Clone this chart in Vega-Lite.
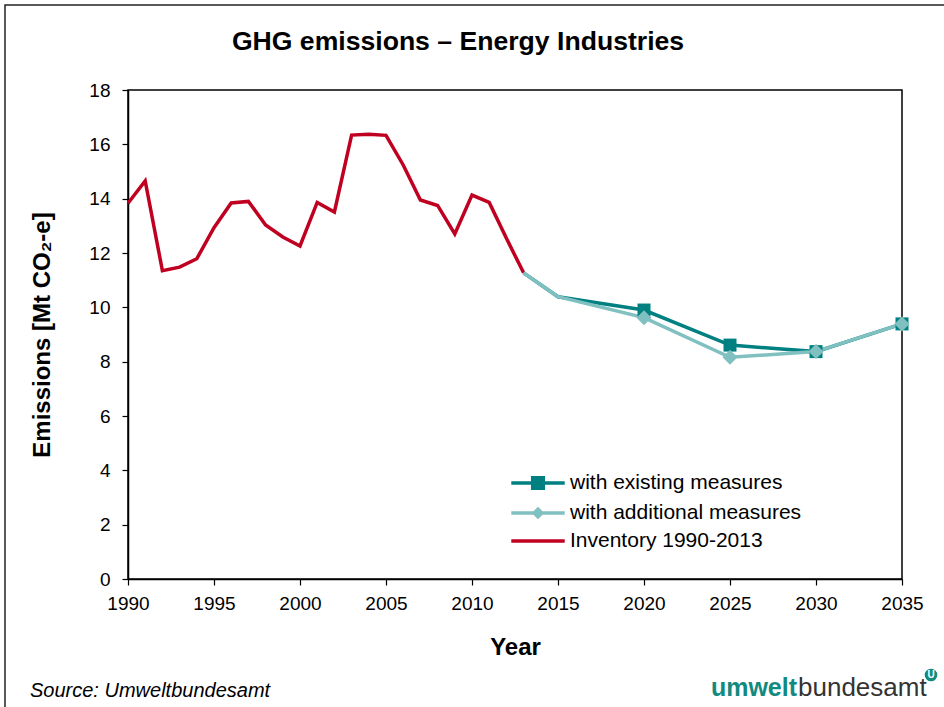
{
  "$schema": "https://vega.github.io/schema/vega-lite/v6.json",
  "width": 774,
  "height": 489,
  "autosize": {"type": "none"},
  "padding": {"left": 128, "top": 90, "right": 42, "bottom": 128},
  "background": "white",
  "title": {
    "text": "GHG emissions – Energy Industries",
    "font": "Liberation Sans",
    "fontSize": 26.6,
    "fontWeight": "bold",
    "color": "black",
    "anchor": "middle",
    "frame": "group",
    "dx": -57,
    "offset": -72,
    "baseline": "alphabetic"
  },
  "config": {
    "view": {"stroke": "black", "strokeWidth": 1.5},
    "axis": {
      "grid": false,
      "domainColor": "black",
      "domainWidth": 1.5,
      "tickColor": "black",
      "tickWidth": 1.2,
      "tickSize": 6,
      "labelFont": "Liberation Sans",
      "labelFontSize": 19,
      "labelColor": "black",
      "labelFlush": false,
      "titleFont": "Liberation Sans",
      "titleFontSize": 24,
      "titleFontWeight": "bold",
      "titleColor": "black"
    }
  },
  "data": {
    "values": [
      {"year": 1990, "value": 13.83, "series": "Inventory 1990-2013"},
      {"year": 1991, "value": 14.65, "series": "Inventory 1990-2013"},
      {"year": 1992, "value": 11.35, "series": "Inventory 1990-2013"},
      {"year": 1993, "value": 11.48, "series": "Inventory 1990-2013"},
      {"year": 1994, "value": 11.79, "series": "Inventory 1990-2013"},
      {"year": 1995, "value": 12.93, "series": "Inventory 1990-2013"},
      {"year": 1996, "value": 13.84, "series": "Inventory 1990-2013"},
      {"year": 1997, "value": 13.90, "series": "Inventory 1990-2013"},
      {"year": 1998, "value": 13.03, "series": "Inventory 1990-2013"},
      {"year": 1999, "value": 12.59, "series": "Inventory 1990-2013"},
      {"year": 2000, "value": 12.26, "series": "Inventory 1990-2013"},
      {"year": 2001, "value": 13.86, "series": "Inventory 1990-2013"},
      {"year": 2002, "value": 13.51, "series": "Inventory 1990-2013"},
      {"year": 2003, "value": 16.34, "series": "Inventory 1990-2013"},
      {"year": 2004, "value": 16.37, "series": "Inventory 1990-2013"},
      {"year": 2005, "value": 16.33, "series": "Inventory 1990-2013"},
      {"year": 2006, "value": 15.24, "series": "Inventory 1990-2013"},
      {"year": 2007, "value": 13.95, "series": "Inventory 1990-2013"},
      {"year": 2008, "value": 13.75, "series": "Inventory 1990-2013"},
      {"year": 2009, "value": 12.70, "series": "Inventory 1990-2013"},
      {"year": 2010, "value": 14.13, "series": "Inventory 1990-2013"},
      {"year": 2011, "value": 13.86, "series": "Inventory 1990-2013"},
      {"year": 2012, "value": 12.54, "series": "Inventory 1990-2013"},
      {"year": 2013, "value": 11.27, "series": "Inventory 1990-2013"},
      {"year": 2013, "value": 11.27, "series": "with existing measures"},
      {"year": 2015, "value": 10.39, "series": "with existing measures"},
      {"year": 2020, "value": 9.90, "series": "with existing measures"},
      {"year": 2025, "value": 8.61, "series": "with existing measures"},
      {"year": 2030, "value": 8.37, "series": "with existing measures"},
      {"year": 2035, "value": 9.39, "series": "with existing measures"},
      {"year": 2013, "value": 11.27, "series": "with additional measures"},
      {"year": 2015, "value": 10.39, "series": "with additional measures"},
      {"year": 2020, "value": 9.62, "series": "with additional measures"},
      {"year": 2025, "value": 8.16, "series": "with additional measures"},
      {"year": 2030, "value": 8.37, "series": "with additional measures"},
      {"year": 2035, "value": 9.39, "series": "with additional measures"}
    ]
  },
  "encoding": {
    "x": {
      "field": "year",
      "type": "quantitative",
      "scale": {"domain": [1990, 2035], "nice": false},
      "axis": {
        "title": "Year",
        "values": [1990, 1995, 2000, 2005, 2010, 2015, 2020, 2025, 2030, 2035],
        "format": "d",
        "labelPadding": 9,
        "titlePadding": 22
      }
    },
    "y": {
      "field": "value",
      "type": "quantitative",
      "scale": {"domain": [0, 18], "nice": false},
      "axis": {
        "title": "Emissions [Mt CO₂-e]",
        "values": [0, 2, 4, 6, 8, 10, 12, 14, 16, 18],
        "labelPadding": 12,
        "titlePadding": 34
      }
    }
  },
  "layer": [
    {
      "mark": {"type": "line", "strokeWidth": 3.5},
      "encoding": {
        "color": {
          "field": "series",
          "type": "nominal",
          "scale": {
            "domain": ["with existing measures", "with additional measures", "Inventory 1990-2013"],
            "range": ["#008080", "#80c0c0", "#c00020"]
          },
          "legend": {
            "title": null,
            "orient": "none",
            "legendX": 398,
            "legendY": 381,
            "padding": 0,
            "symbolSize": 400,
            "symbolStrokeWidth": 3.5,
            "labelFont": "Liberation Sans",
            "labelFontSize": 21,
            "labelColor": "black",
            "labelOffset": 20,
            "labelLimit": 400,
            "rowPadding": 5,
            "encode": {
              "symbols": {
                "update": {
                  "shape": {"signal": "datum.value === 'with existing measures' ? 'M-2.67,0H2.67M-0.53,-0.53H0.53V0.53H-0.53Z' : datum.value === 'with additional measures' ? 'M-2.67,0H2.67M-0.38,0L0,-0.38L0.38,0L0,0.38Z' : 'M-2.67,0H2.67'"},
                  "fill": {"signal": "datum.value === 'with existing measures' ? '#008080' : datum.value === 'with additional measures' ? '#80c0c0' : 'transparent'"}
                }
              }
            }
          }
        },
        "order": {"field": "year", "type": "quantitative"}
      }
    },
    {
      "transform": [{"filter": "datum.series === 'with existing measures' && datum.year >= 2020"}],
      "mark": {"type": "point", "shape": "square", "filled": true, "size": 169, "color": "#008080", "opacity": 1}
    },
    {
      "transform": [{"filter": "datum.series === 'with additional measures' && datum.year >= 2020"}],
      "mark": {"type": "point", "shape": "diamond", "filled": true, "size": 225, "color": "#80c0c0", "opacity": 1}
    },
    {
      "data": {"values": [{"note": "Source: Umweltbundesamt"}]},
      "mark": {"type": "text", "x": -98, "y": 607, "align": "left", "baseline": "alphabetic", "font": "Liberation Sans", "fontSize": 20, "fontStyle": "italic", "color": "black"},
      "encoding": {"text": {"field": "note"}, "x": null, "y": null}
    },
    {
      "data": {"values": [{"word": "umwelt"}]},
      "mark": {"type": "text", "x": 669, "y": 606, "align": "right", "baseline": "alphabetic", "font": "Liberation Sans", "fontSize": 25, "fontWeight": "bold", "color": "#138a80"},
      "encoding": {"text": {"field": "word"}, "x": null, "y": null}
    },
    {
      "data": {"values": [{"word": "bundesamt"}]},
      "mark": {"type": "text", "x": 670, "y": 606, "align": "left", "baseline": "alphabetic", "font": "Liberation Sans", "fontSize": 26, "color": "#333333"},
      "encoding": {"text": {"field": "word"}, "x": null, "y": null}
    },
    {
      "data": {"values": [{"word": "U"}]},
      "mark": {"type": "point", "x": 803, "y": 585, "shape": "circle", "filled": true, "size": 160, "color": "#138a80", "opacity": 1},
      "encoding": {"x": null, "y": null}
    },
    {
      "data": {"values": [{"word": "U"}]},
      "mark": {"type": "text", "x": 803, "y": 585, "align": "center", "baseline": "middle", "font": "Liberation Sans", "fontSize": 10, "fontWeight": "bold", "color": "white"},
      "encoding": {"text": {"field": "word"}, "x": null, "y": null}
    },
    {
      "data": {"values": [{"frame": 1}]},
      "mark": {"type": "rect", "x": -123, "y": -85, "x2": 830, "y2": 630, "fill": "transparent", "stroke": "#222222", "strokeWidth": 1.5},
      "encoding": {"x": null, "y": null}
    }
  ]
}
